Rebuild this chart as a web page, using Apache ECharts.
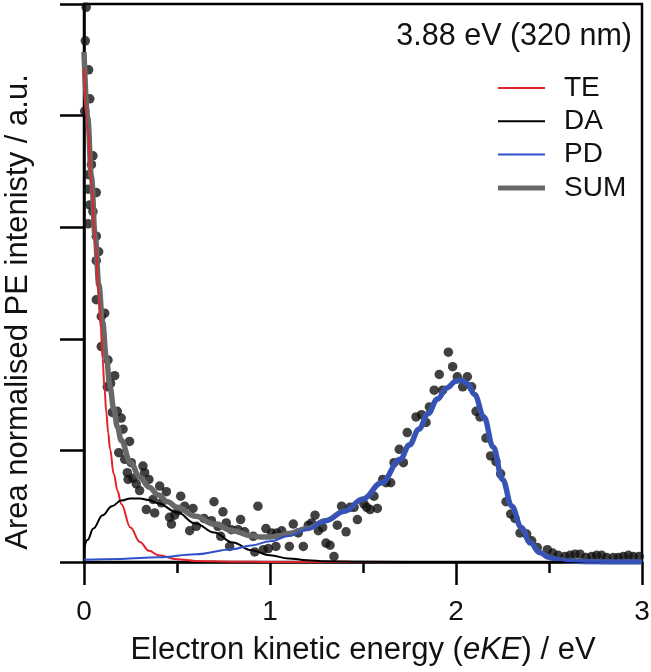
<!DOCTYPE html>
<html>
<head>
<meta charset="utf-8">
<script src="https://cdn.jsdelivr.net/npm/echarts@6/dist/echarts.min.js"></script>
<style>
html,body{margin:0;padding:0;background:#fff;}
#chart{width:651px;height:672px;}
</style>
</head>
<body>
<div id="chart"></div>
<script>
// ---- data ----
var xTicks = [0, 1, 2, 3];
var seriesNames = ['TE', 'DA', 'PD', 'SUM'];
var titleText = '3.88 eV (320 nm)';
var xName = 'Electron kinetic energy ({i|eKE}) / eV';
var yName = 'Area normalised PE intenisty / a.u.';

var points = [
 [0.012,4.97],[0.007,4.67],[0.025,4.41],[0.031,4.15],[0.004,4.04],[0.048,3.64],[0.040,3.56],[0.025,3.47],
 [0.022,3.34],[0.066,3.31],[0.031,3.20],[0.048,3.14],[0.022,3.03],[0.066,2.92],[0.079,2.78],[0.066,2.70],
 [0.066,2.35],[0.111,2.23],[0.093,2.20],[0.093,1.93],[0.129,1.81],[0.165,1.67],[0.143,1.60],[0.125,1.57],
 [0.152,1.34],[0.179,1.35],[0.200,1.29],[0.210,1.19],[0.245,1.08],[0.187,0.98],[0.219,0.92],[0.254,0.89],
 [0.317,0.86],[0.233,0.80],[0.326,0.80],[0.263,0.75],[0.237,0.74],[0.349,0.74],[0.281,0.70],[0.299,0.64],
 [0.407,0.68],[0.443,0.63],[0.371,0.56],[0.416,0.53],[0.520,0.59],[0.335,0.47],[0.380,0.44],[0.541,0.50],
 [0.586,0.48],[0.505,0.46],[0.460,0.40],[0.487,0.42],[0.470,0.34],[0.699,0.54],[0.645,0.39],[0.685,0.37],
 [0.747,0.45],[0.842,0.38],[0.604,0.32],[0.568,0.28],[0.720,0.32],[0.765,0.35],[0.792,0.29],[0.828,0.29],
 [0.864,0.27],[0.735,0.23],[0.783,0.14],[0.935,0.50],[0.918,0.09],[0.910,0.23],[0.964,0.11],[0.991,0.12],
 [0.978,0.30],[1.009,0.26],[1.036,0.26],[1.063,0.28],[1.032,0.14],[1.104,0.14],[1.125,0.34],[1.152,0.26],
 [1.179,0.14],[1.206,0.33],[1.224,0.35],[1.242,0.42],[1.260,0.28],[1.283,0.31],[1.301,0.17],[1.323,0.15],
 [1.344,0.05],[1.362,0.33],[1.385,0.50],[1.409,0.27],[1.430,0.49],[1.452,0.49],[1.470,0.38],[1.505,0.52],
 [1.520,0.49],[1.538,0.47],[1.559,0.59],[1.577,0.48],[1.606,0.74],[1.624,0.71],[1.649,0.71],[1.667,0.89],
 [1.695,1.01],[1.717,0.89],[1.738,1.16],[1.785,1.30],[1.815,1.32],[1.839,1.25],[1.857,1.39],[1.883,1.54],
 [1.910,1.68],[1.928,1.54],[1.959,1.88],[1.982,1.75],[2.007,1.66],[2.036,1.57],[2.061,1.66],[2.084,1.57],
 [2.108,1.35],[2.129,1.30],[2.161,1.11],[2.186,0.95],[2.215,0.90],[2.240,0.79],[2.269,0.54],[2.294,0.43],
 [2.317,0.39],[2.344,0.26],[2.380,0.25],[2.407,0.19],[2.437,0.13],[2.491,0.11],[2.520,0.08],[2.550,0.06],
 [2.586,0.05],[2.613,0.06],[2.640,0.07],[2.667,0.07],[2.699,0.04],[2.730,0.05],[2.756,0.06],[2.783,0.06],
 [2.810,0.04],[2.846,0.04],[2.873,0.04],[2.900,0.05],[2.927,0.06],[2.953,0.05],[2.985,0.05]
];

var teCurve = [
 [0,4.42],[0.02,3.9],[0.04,3.38],[0.06,2.88],[0.08,2.38],[0.09,2.1],[0.1,1.82],[0.11,1.56],[0.12,1.34],
 [0.13,1.16],[0.14,1.01],[0.16,0.79],[0.18,0.64],[0.2,0.52],[0.25,0.31],[0.3,0.18],[0.35,0.1],[0.4,0.06],
 [0.5,0.025],[0.6,0.01],[0.8,0.003],[1.0,0.001],[1.5,0],[3.0,0]
];
var daCurve = [
 [0,0.12],[0.02,0.2],[0.05,0.3],[0.1,0.42],[0.15,0.5],[0.2,0.55],[0.25,0.57],[0.3,0.57],[0.35,0.555],
 [0.4,0.525],[0.5,0.445],[0.6,0.345],[0.7,0.265],[0.8,0.175],[0.9,0.105],[1.0,0.06],[1.1,0.032],
 [1.2,0.016],[1.3,0.007],[1.5,0.002],[2.0,0],[3.0,0]
];
var pdCurve = [
 [0,0.02],[0.2,0.028],[0.4,0.042],[0.6,0.07],[0.8,0.115],[0.9,0.148],[1.0,0.185],[1.1,0.232],[1.2,0.29],
 [1.3,0.36],[1.4,0.45],[1.5,0.56],[1.6,0.71],[1.7,0.92],[1.75,1.05],[1.8,1.19],[1.85,1.33],[1.9,1.46],
 [1.95,1.56],[2.0,1.62],[2.03,1.63],[2.06,1.6],[2.1,1.5],[2.15,1.3],[2.2,1.03],[2.25,0.74],[2.3,0.5],
 [2.35,0.31],[2.4,0.17],[2.45,0.085],[2.5,0.04],[2.55,0.02],[2.6,0.01],[2.7,0.003],[2.8,0.001],[3.0,0]
];
var sumCurve = [
 [0,4.57],[0.02,3.98],[0.04,3.45],[0.06,2.92],[0.08,2.48],[0.1,2.15],[0.12,1.83],[0.14,1.57],[0.16,1.37],
 [0.18,1.21],[0.2,1.09],[0.25,0.89],[0.3,0.76],[0.35,0.67],[0.4,0.6],[0.45,0.54],[0.5,0.49],[0.6,0.41],
 [0.7,0.34],[0.8,0.28],[0.9,0.235],[0.95,0.225],[1.0,0.225],[1.05,0.235],[1.1,0.255],[1.2,0.3],[1.3,0.37],
 [1.4,0.455],[1.5,0.565],[1.6,0.71],[1.7,0.92],[1.75,1.05],[1.8,1.19],[1.85,1.33],[1.9,1.46],[1.95,1.56],
 [2.0,1.62],[2.03,1.63],[2.06,1.6],[2.1,1.5],[2.15,1.3],[2.2,1.03],[2.25,0.74],[2.3,0.5],[2.35,0.31],
 [2.4,0.17],[2.45,0.085],[2.5,0.04],[2.55,0.02],[2.6,0.01],[2.7,0.003],[2.8,0.001],[3.0,0]
];

// ---- chart ----
var FONT = '"Liberation Sans", Arial, Helvetica, sans-serif';
var chart = echarts.init(document.getElementById('chart'), null, {renderer: 'canvas'});
var GRAY = '#686868', BLUE = '#3050c8', RED = '#e3232a', SUMBLUE = '#3d56a8';
// legend icons: bounding box 47x12 with a centred bar
var thinIcon = 'path://M0,0L47,0L47,0Z M0,5L47,5L47,7L0,7Z M0,12L47,12L47,12Z';
var thickIcon = 'path://M0,0L47,0L47,0Z M0,3.5L47,3.5L47,8.5L0,8.5Z M0,12L47,12L47,12Z';

var option = {
  animation: false,
  backgroundColor: '#fff',
  textStyle: {fontFamily: FONT},
  title: {
    text: titleText, right: 19, top: 21, padding: 0,
    textStyle: {fontFamily: FONT, fontSize: 30.5, fontWeight: 'normal', color: '#111'}
  },
  legend: {
    orient: 'vertical', left: 498, top: 74, itemWidth: 47, itemHeight: 12, itemGap: 5.3,
    padding: 0,
    textStyle: {fontFamily: FONT, fontSize: 28, color: '#111', lineHeight: 28, padding: [0, 0, 0, 14]},
    data: [
      {name: 'TE', icon: thinIcon, itemStyle: {color: RED}},
      {name: 'DA', icon: thinIcon, itemStyle: {color: '#000'}},
      {name: 'PD', icon: thinIcon, itemStyle: {color: BLUE}},
      {name: 'SUM', icon: thickIcon, itemStyle: {color: GRAY}}
    ],
    selectedMode: false
  },
  grid: {left: 84, right: 9, top: 4, bottom: 110, show: true, borderColor: '#000', borderWidth: 2.5,
    backgroundColor: 'transparent', containLabel: false, outerBoundsMode: 'none'},
  xAxis: {
    type: 'value', min: 0, max: 3, interval: 1,
    name: xName, nameLocation: 'middle', nameGap: 73,
    nameTextStyle: {fontFamily: FONT, fontSize: 31, color: '#111',
      rich: {i: {fontFamily: FONT, fontSize: 31, fontStyle: 'italic', color: '#111'}}},
    axisLine: {show: true, onZero: false, lineStyle: {color: '#000', width: 2.5}},
    axisTick: {show: true, length: 23, lineStyle: {color: '#000', width: 2.5}},
    minorTick: {show: true, splitNumber: 2, length: 11, lineStyle: {color: '#000', width: 2.5}},
    splitLine: {show: false},
    axisLabel: {fontFamily: FONT, fontSize: 28, color: '#111', margin: 36,
      formatter: function (v) { return xTicks.indexOf(v) >= 0 ? String(v) : ''; }}
  },
  yAxis: {
    type: 'value', min: 0, max: 5, interval: 1,
    name: yName, nameLocation: 'middle', nameGap: 50, nameRotate: 90,
    nameTextStyle: {fontFamily: FONT, fontSize: 31, color: '#111', padding: [0, 58, 0, 0]},
    axisLine: {show: true, lineStyle: {color: '#000', width: 2.5}},
    axisTick: {show: true, length: 24, lineStyle: {color: '#000', width: 2.5}},
    splitLine: {show: false},
    axisLabel: {show: false}
  },
  series: [
    {type: 'scatter', name: 'data', data: points, symbolSize: 9.5, z: 1,
     itemStyle: {color: '#111'}, silent: true},
    {type: 'line', name: 'SUM', data: sumCurve, showSymbol: false, symbol: 'none', smooth: 0.4, smoothMonotone: 'x', z: 2,
     lineStyle: {width: 5.5, color: new echarts.graphic.LinearGradient(0, 0, 1, 0, [
       {offset: 0, color: GRAY}, {offset: 0.37, color: GRAY}, {offset: 0.43, color: SUMBLUE}, {offset: 1, color: SUMBLUE}])},
     itemStyle: {color: GRAY}},
    {type: 'line', name: 'TE', data: teCurve, showSymbol: false, symbol: 'none', smooth: 0.4, smoothMonotone: 'x', z: 3,
     lineStyle: {width: 2, color: RED}, itemStyle: {color: RED}},
    {type: 'line', name: 'DA', data: daCurve, showSymbol: false, symbol: 'none', smooth: 0.4, smoothMonotone: 'x', z: 3,
     lineStyle: {width: 2, color: '#000'}, itemStyle: {color: '#000'}},
    {type: 'line', name: 'PD', data: pdCurve, showSymbol: false, symbol: 'none', smooth: 0.4, smoothMonotone: 'x', z: 4,
     lineStyle: {width: 2, color: BLUE}, itemStyle: {color: BLUE}}
  ]
};
chart.setOption(option);
</script>
</body>
</html>
